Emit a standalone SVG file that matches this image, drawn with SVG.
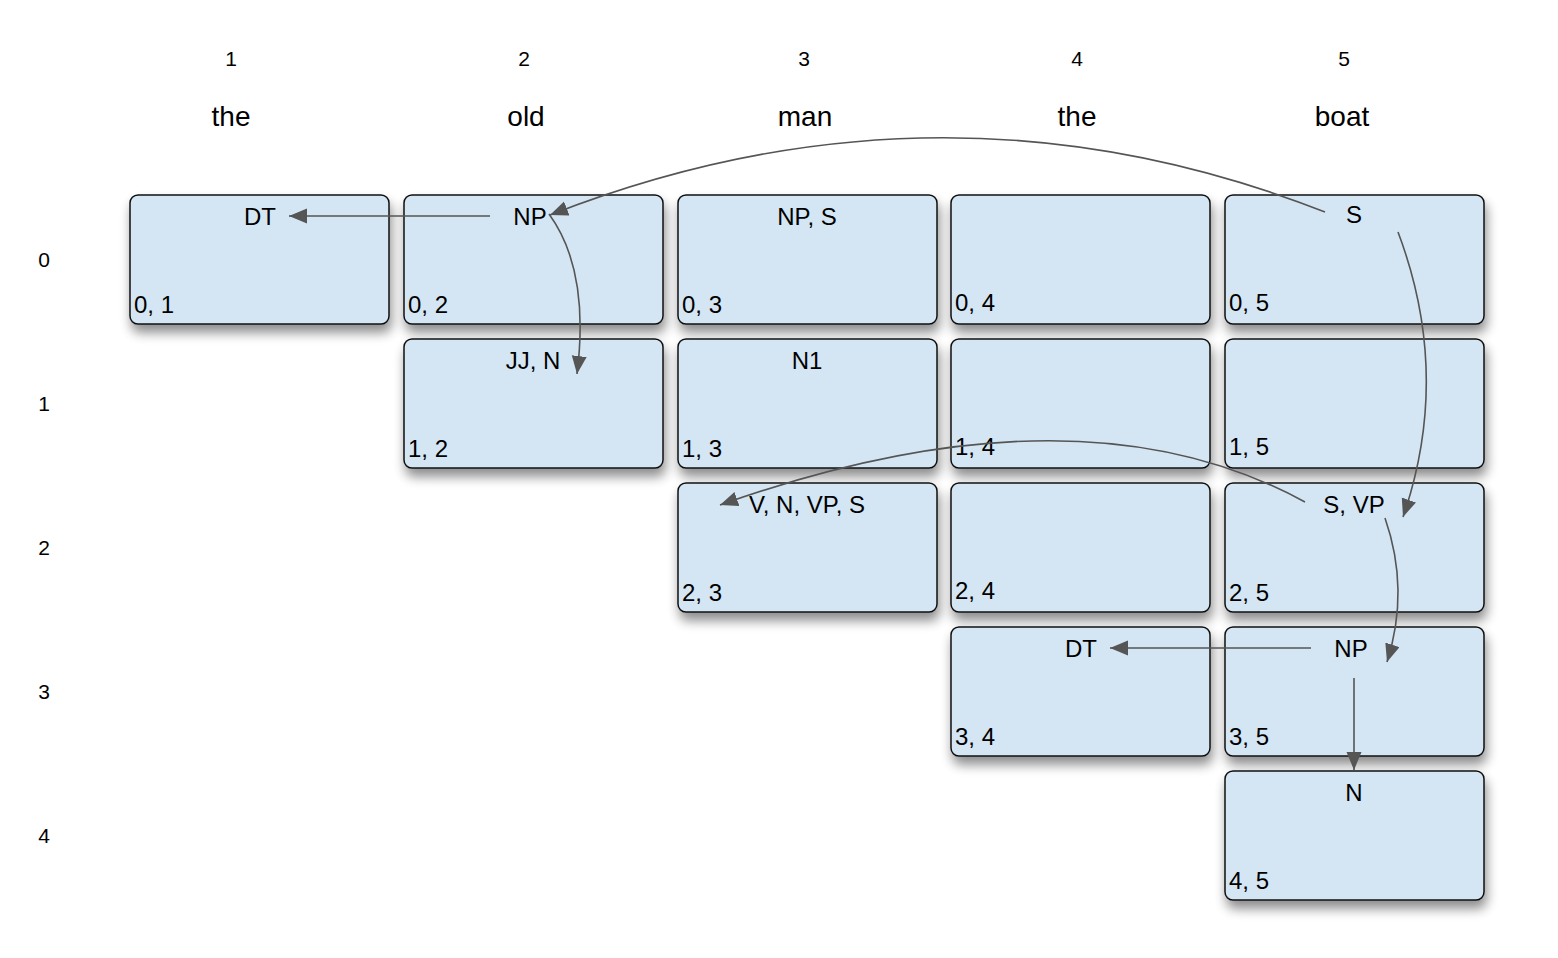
<svg xmlns="http://www.w3.org/2000/svg" width="1558" height="958" viewBox="0 0 1558 958">
<style>
.cell{fill:#d4e6f4;stroke:#111;stroke-width:1.5;filter:url(#sh)}
.t{font-family:"Liberation Sans",Arial,sans-serif;font-size:24px;fill:#000}
.c{text-anchor:middle}
.hdr{font-family:"Liberation Sans",Arial,sans-serif;font-size:21px;fill:#000;text-anchor:middle}
.w{font-family:"Liberation Sans",Arial,sans-serif;font-size:28px;fill:#000;text-anchor:middle}
.e{fill:none;stroke:#555;stroke-width:1.6;marker-end:url(#ah)}
</style>
<defs>
<filter id="sh" x="-10%" y="-10%" width="130%" height="150%">
<feGaussianBlur in="SourceAlpha" stdDeviation="6"/>
<feOffset dx="2" dy="8" result="b"/>
<feComponentTransfer><feFuncA type="linear" slope="0.45"/></feComponentTransfer>
<feMerge><feMergeNode/><feMergeNode in="SourceGraphic"/></feMerge>
</filter>
<marker id="ah" markerUnits="userSpaceOnUse" markerWidth="20" markerHeight="16" refX="18" refY="7.5" orient="auto">
<path d="M0,0 L18,7.5 L0,15 Z" fill="#555"/>
</marker>
</defs>
<rect width="1558" height="958" fill="#fff"/>
<g id="headers">
<text class="hdr" x="231" y="66">1</text>
<text class="hdr" x="524" y="66">2</text>
<text class="hdr" x="804" y="66">3</text>
<text class="hdr" x="1077" y="66">4</text>
<text class="hdr" x="1344" y="66">5</text>
<text class="w" x="231" y="126">the</text>
<text class="w" x="526" y="126">old</text>
<text class="w" x="805" y="126">man</text>
<text class="w" x="1077" y="126">the</text>
<text class="w" x="1342" y="126">boat</text>
<text class="hdr" x="44" y="267">0</text>
<text class="hdr" x="44" y="411">1</text>
<text class="hdr" x="44" y="555">2</text>
<text class="hdr" x="44" y="699">3</text>
<text class="hdr" x="44" y="843">4</text>
</g>
<g id="cell-0-1"><rect class="cell" x="130" y="195" width="259" height="129" rx="8"/><text class="t c" x="260" y="225">DT</text><text class="t" x="134" y="313">0, 1</text></g>
<g id="cell-0-2"><rect class="cell" x="404" y="195" width="259" height="129" rx="8"/><text class="t c" x="530" y="225">NP</text><text class="t" x="408" y="313">0, 2</text></g>
<g id="cell-0-3"><rect class="cell" x="678" y="195" width="259" height="129" rx="8"/><text class="t c" x="807" y="225">NP, S</text><text class="t" x="682" y="313">0, 3</text></g>
<g id="cell-0-4"><rect class="cell" x="951" y="195" width="259" height="129" rx="8"/><text class="t" x="955" y="311">0, 4</text></g>
<g id="cell-0-5"><rect class="cell" x="1225" y="195" width="259" height="129" rx="8"/><text class="t c" x="1354" y="223">S</text><text class="t" x="1229" y="311">0, 5</text></g>
<g id="cell-1-2"><rect class="cell" x="404" y="339" width="259" height="129" rx="8"/><text class="t c" x="533" y="369">JJ, N</text><text class="t" x="408" y="457">1, 2</text></g>
<g id="cell-1-3"><rect class="cell" x="678" y="339" width="259" height="129" rx="8"/><text class="t c" x="807" y="369">N1</text><text class="t" x="682" y="457">1, 3</text></g>
<g id="cell-1-4"><rect class="cell" x="951" y="339" width="259" height="129" rx="8"/><text class="t" x="955" y="455">1, 4</text></g>
<g id="cell-1-5"><rect class="cell" x="1225" y="339" width="259" height="129" rx="8"/><text class="t" x="1229" y="455">1, 5</text></g>
<g id="cell-2-3"><rect class="cell" x="678" y="483" width="259" height="129" rx="8"/><text class="t c" x="807" y="513">V, N, VP, S</text><text class="t" x="682" y="601">2, 3</text></g>
<g id="cell-2-4"><rect class="cell" x="951" y="483" width="259" height="129" rx="8"/><text class="t" x="955" y="599">2, 4</text></g>
<g id="cell-2-5"><rect class="cell" x="1225" y="483" width="259" height="129" rx="8"/><text class="t c" x="1354" y="513">S, VP</text><text class="t" x="1229" y="601">2, 5</text></g>
<g id="cell-3-4"><rect class="cell" x="951" y="627" width="259" height="129" rx="8"/><text class="t c" x="1081" y="657">DT</text><text class="t" x="955" y="745">3, 4</text></g>
<g id="cell-3-5"><rect class="cell" x="1225" y="627" width="259" height="129" rx="8"/><text class="t c" x="1351" y="657">NP</text><text class="t" x="1229" y="745">3, 5</text></g>
<g id="cell-4-5"><rect class="cell" x="1225" y="771" width="259" height="129" rx="8"/><text class="t c" x="1354" y="801">N</text><text class="t" x="1229" y="889">4, 5</text></g>
<g id="connectors">
<path class="e" d="M490,216 L289,216"/>
<path class="e" d="M549,214 Q590,270 577,374"/>
<path class="e" d="M1325,212 Q942,62 550,215"/>
<path class="e" d="M1398,232 Q1452,375 1403,517"/>
<path class="e" d="M1305,502 Q1078,378 720,505"/>
<path class="e" d="M1385,518 Q1410,590 1387,662"/>
<path class="e" d="M1311,648 L1110,648"/>
<path class="e" d="M1354,678 L1354,770"/>
</g>
</svg>
